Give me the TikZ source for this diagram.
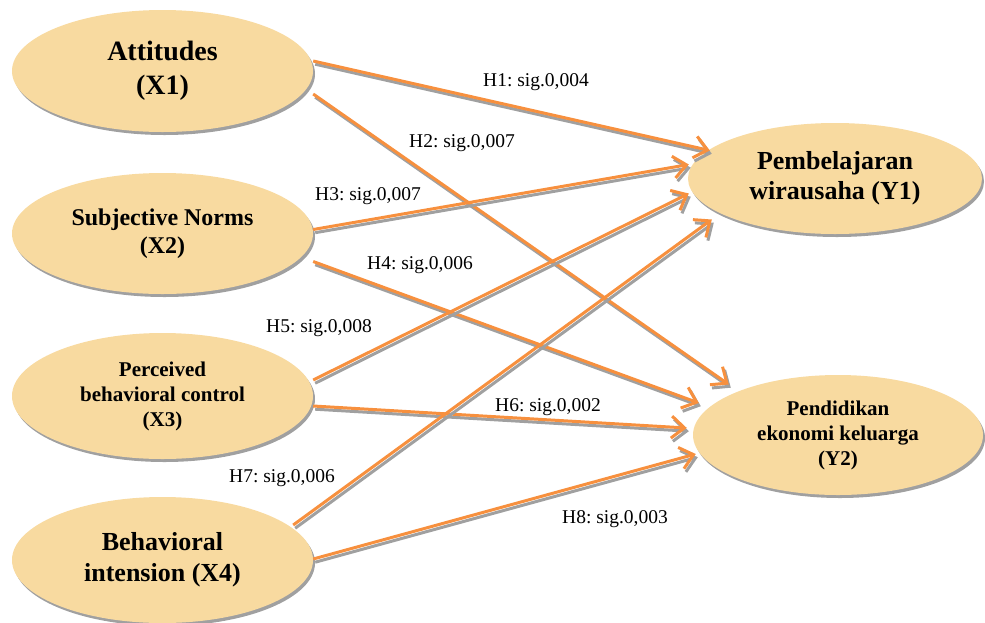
\documentclass[tikz,border=0pt]{standalone}
\usepackage{fontspec}
\setmainfont{Liberation Serif}
\frenchspacing
\usetikzlibrary{shapes.geometric, shadows, arrows.meta}

\definecolor{tan}{HTML}{F8DAA0}
\definecolor{hyporange}{HTML}{F7903E}
\definecolor{shade}{HTML}{A0A0A0}

\tikzset{
	construct/.style={ellipse, fill=tan, inner sep=0pt, align=center,
		drop shadow={shadow xshift=2pt, shadow yshift=-3pt, fill=shade, opacity=1}},
	hyp/.style={hyporange, line width=3pt, -{Straight Barb[length=13pt, width=22pt]}},
	hypshadow/.style={hyp, draw=shade},
	siglabel/.style={font=\fontsize{19.5}{21}\selectfont, inner sep=1pt}
}

% orange arrow with grey shadow beneath
\newcommand{\hypo}[2]{%
	\begin{scope}[transform canvas={xshift=2pt, yshift=-3.2pt}]
		\draw[hypshadow] (#1) -- (#2);
	\end{scope}
	\draw[hyp] (#1) -- (#2);
}

\begin{document}
\begin{tikzpicture}[x=1pt, y=-1pt]

\useasboundingbox (0,0) rectangle (985,622);

%Constructs
\node[construct, minimum width=301pt, minimum height=122pt,
	font=\fontsize{28}{34}\selectfont\bfseries] (X1) at (162.5,71) {Attitudes\\(X1)};
\node[construct, minimum width=301pt, minimum height=121pt,
	font=\fontsize{24}{28}\selectfont\bfseries] (X2) at (162.5,233.5) {Subjective Norms\\(X2)};
\node[construct, minimum width=301pt, minimum height=126pt,
	font=\fontsize{21}{25}\selectfont\bfseries] (X3) at (162.5,396) {Perceived\\behavioral control\\(X3)};
\node[construct, minimum width=301pt, minimum height=126pt,
	font=\fontsize{26}{31}\selectfont\bfseries] (X4) at (162.5,560) {Behavioral\\intension (X4)};

\node[construct, minimum width=294pt, minimum height=111pt,
	font=\fontsize{26}{30}\selectfont\bfseries] (Y1) at (835,178.5) {Pembelajaran\\wirausaha (Y1)};
\node[construct, minimum width=290pt, minimum height=120pt,
	font=\fontsize{21}{25}\selectfont\bfseries] (Y2) at (838,435) {Pendidikan\\ekonomi keluarga\\(Y2)};

%Hypotheses
\hypo{[yshift=10pt]X1.east}{[xshift=22pt, yshift=28pt]Y1.west}
\hypo{[yshift=-23pt]X1.east}{[xshift=41pt, yshift=-206pt]Y1.west}
\hypo{[yshift=4pt]X2.east}{[xshift=1pt, yshift=14pt]Y1.west}
\hypo{[yshift=-28pt]X2.east}{[xshift=6pt, yshift=32pt]Y2.west}
\hypo{[yshift=16pt]X3.east}{[xshift=1pt, yshift=-15pt]Y1.west}
\hypo{[yshift=-10pt]X3.east}{[xshift=-6pt, yshift=7pt]Y2.west}
\hypo{[xshift=-20pt, yshift=35pt]X4.east}{[xshift=24pt, yshift=-41pt]Y1.west}
\hypo{[yshift=1pt]X4.east}{[xshift=3pt, yshift=-19pt]Y2.west}

%Labels
\node[siglabel] (l1) at (536,82) {H1: sig.0,004};
\node[siglabel] (l2) at (462,143) {H2: sig.0,007};
\node[siglabel] (l3) at (368,196) {H3: sig.0,007};
\node[siglabel] (l4) at (420,265) {H4: sig.0,006};
\node[siglabel] (l5) at (319,328) {H5: sig.0,008};
\node[siglabel] (l6) at (548,407) {H6: sig.0,002};
\node[siglabel] (l7) at (282,478) {H7: sig.0,006};
\node[siglabel] (l8) at (615,519) {H8: sig.0,003};

\end{tikzpicture}
\end{document}
